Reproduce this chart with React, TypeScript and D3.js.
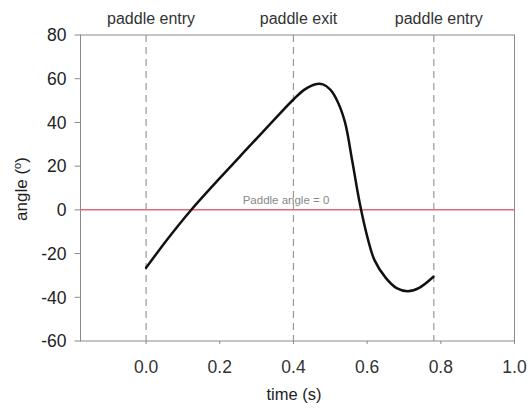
import React from "react";
import * as d3 from "d3";

const timeValues = [0, 0.06, 0.12, 0.2, 0.28, 0.36, 0.4, 0.43, 0.46, 0.48, 0.5, 0.52, 0.54, 0.56, 0.58, 0.6, 0.62, 0.65, 0.68, 0.71, 0.74, 0.78];
const angleValues = [-26.5, -13, -0.5, 14.5, 29, 43.5, 50.5, 55, 57.5, 57.4, 55, 49.5, 40, 22, 3, -12, -23, -31, -35.8, -37.2, -35.8, -30.6];
const xTicks = [0, 0.2, 0.4, 0.6, 0.8, 1.0];
const yTicks = [-60, -40, -20, 0, 20, 40, 60, 80];
const events = [
  { t: 0, label: "paddle entry" },
  { t: 0.4, label: "paddle exit" },
  { t: 0.781, label: "paddle entry" },
];

export default function App() {
  const W = 530, H = 410;
  const left = 80.5, right = 514.5, top = 35, bottom = 341;
  const x = d3.scaleLinear().domain([-0.178, 1.0]).range([left, right]);
  const y = d3.scaleLinear().domain([-60, 80]).range([bottom, top]);
  const pts = timeValues.map((t, i) => [t, angleValues[i]] as [number, number]);
  const line = d3.line<[number, number]>().x(d => x(d[0])).y(d => y(d[1])).curve(d3.curveCatmullRom.alpha(0.5));
  const font = "'Liberation Sans', Arial, sans-serif";
  return (
    <svg width={W} height={H} style={{ position: "absolute", left: 0, top: 0, background: "#fff" }} fontFamily={font}>
      <rect x={left} y={top} width={right - left} height={bottom - top} fill="none" stroke="#8a8a8a" strokeWidth={1} />
      {yTicks.map(v => (
        <g key={v}>
          <line x1={left - 6} x2={left} y1={y(v)} y2={y(v)} stroke="#8a8a8a" />
          <text x={left - 14} y={y(v)} dy="0.36em" textAnchor="end" fontSize={17.5} fill="#222">{v}</text>
        </g>
      ))}
      {xTicks.map(v => (
        <g key={v}>
          <line x1={x(v)} x2={x(v)} y1={bottom} y2={bottom + 3} stroke="#8a8a8a" />
          <text x={x(v)} y={373} textAnchor="middle" fontSize={17.5} fill="#333">{v.toFixed(1)}</text>
        </g>
      ))}
      {events.map((e, i) => (
        <g key={i}>
          <line x1={x(e.t)} x2={x(e.t)} y1={top} y2={bottom} stroke="#999" strokeDasharray="7,5" strokeWidth={1.2} />
          <text x={x(e.t) + 5} y={24} textAnchor="middle" fontSize={16} fill="#333">{e.label}</text>
        </g>
      ))}
      <line x1={left} x2={right} y1={y(0)} y2={y(0)} stroke="#e06b78" strokeWidth={1.5} />
      <text x={286} y={y(0) - 6} textAnchor="middle" fontSize={11.5} fill="#888">Paddle angle = 0</text>
      <path d={line(pts) || ""} fill="none" stroke="#111" strokeWidth={2.5} strokeLinecap="round" />
      <text x={294} y={400} textAnchor="middle" fontSize={16.5} fill="#222">time (s)</text>
      <text transform={`translate(27,${189}) rotate(-90)`} textAnchor="middle" fontSize={17} fill="#222">
        angle (<tspan baselineShift="super" fontSize={11}>o</tspan>)
      </text>
    </svg>
  );
}
